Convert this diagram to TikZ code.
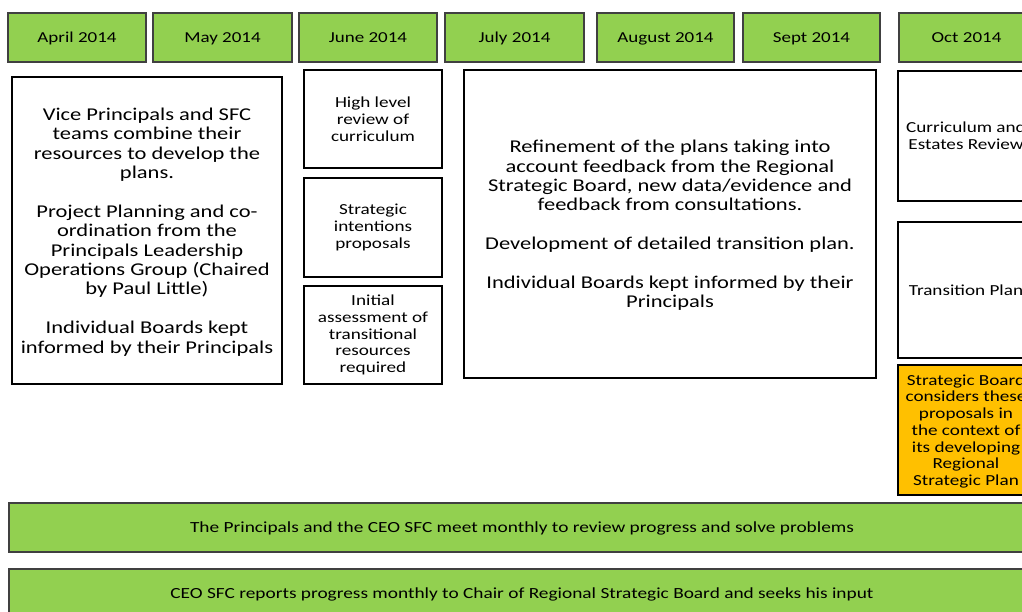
\documentclass[tikz,border=0pt]{standalone}
\usepackage{fontspec}
\setmainfont{Carlito}[FakeStretch=1.25]
\definecolor{monthgreen}{RGB}{146,208,80}
\definecolor{boardamber}{RGB}{255,192,0}
\definecolor{edgegrey}{RGB}{64,64,64}

\begin{document}
\begin{tikzpicture}
[x=0.025cm, y=-0.025cm, line width=0.75pt,
month/.style={rectangle, draw=edgegrey, fill=monthgreen, inner sep=0pt, text depth=0pt, minimum width=#1*0.025cm, minimum height=49*0.025cm, font=\fontsize{10.8}{12}\selectfont},
bar/.style={rectangle, draw=edgegrey, fill=monthgreen, inner sep=0pt, text depth=0pt, minimum width=1026*0.025cm, minimum height=#1*0.025cm, font=\fontsize{11}{12}\selectfont},
bigtask/.style={rectangle, draw, fill=white, inner sep=0pt, text depth=0pt, align=center, font=\fontsize{12.8}{13.8}\selectfont},
task/.style={rectangle, draw, fill=white, inner sep=0pt, align=center, minimum width=138*0.025cm, font=\fontsize{10.9}{11.9}\selectfont},
octtask/.style={rectangle, draw, fill=white, inner sep=0pt, text depth=0pt, align=center, minimum width=136*0.025cm, font=\fontsize{10.9}{11.9}\selectfont}
]

\useasboundingbox (0,0) rectangle (1022,612);
\clip (0,0) rectangle (1022,612);

\foreach \x/\w/\m/\txt in {77/138/apr/April 2014, 222.5/139/may/May 2014, 368/138/jun/June 2014,
  514.5/139/jul/July 2014, 665.5/137/aug/August 2014, 811.5/137/sep/Sept 2014, 966.5/135/oct/Oct 2014} {
  \node[month=\w] (\m) at (\x,37.5) {\txt};
}

\node[bigtask, minimum width=270*0.025cm, minimum height=307*0.025cm] (plans) at (147,230.5)
  {Vice Principals and SFC\\teams combine their\\resources to develop the\\plans.\\[13.8pt]
   Project Planning and co-\\ordination from the\\Principals Leadership\\Operations Group (Chaired\\by Paul Little)\\[13.8pt]
   Individual Boards kept\\informed by their Principals};

\node[task, minimum height=98*0.025cm] (review) at (373,119) {High level\\review of\\curriculum};
\node[task, minimum height=99*0.025cm] (intent) at (373,227.5) {Strategic\\intentions\\proposals};
\node[task, minimum height=98*0.025cm] (assess) at (373,335) {Initial\\assessment of\\transitional\\resources\\required};

\node[bigtask, minimum width=412*0.025cm, minimum height=308*0.025cm] (refine) at (670,224)
  {Refinement of the plans taking into\\account feedback from the Regional\\Strategic Board, new data/evidence and\\feedback from consultations.\\[13.8pt]
   Development of detailed transition plan.\\[13.8pt]
   Individual Boards kept informed by their\\Principals};

\node[octtask, minimum height=130*0.025cm] (estates) at (966,136) {Curriculum and\\Estates Review};
\node[octtask, minimum height=136*0.025cm] (transition) at (966,290) {Transition Plan};
\node[octtask, fill=boardamber, minimum height=130*0.025cm] (board) at (966,430)
  {Strategic Board\\considers these\\proposals in\\the context of\\its developing\\Regional\\Strategic Plan};

\node[bar=49] (meet) at (522,527.5) {The Principals and the CEO SFC meet monthly to review progress and solve problems};
\node[bar=48] (report) at (522,593) {CEO SFC reports progress monthly to Chair of Regional Strategic Board and seeks his input};

\end{tikzpicture}
\end{document}
